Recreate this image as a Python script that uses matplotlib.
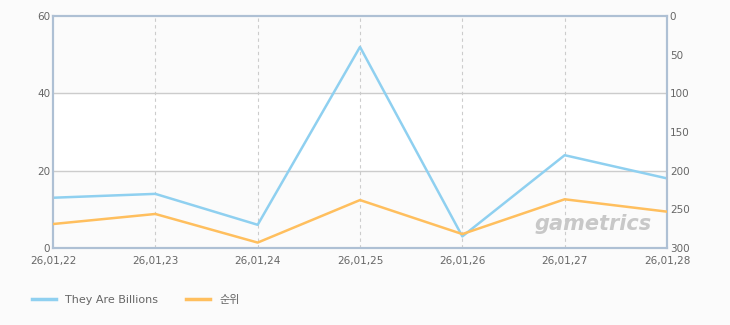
import matplotlib
matplotlib.use('Agg')
import matplotlib.pyplot as plt

plt.rcParams['font.family'] = ['DejaVu Sans', 'Noto Sans CJK KR']

dates = ['26,01,22', '26,01,23', '26,01,24', '26,01,25', '26,01,26', '26,01,27', '26,01,28']
players = [13, 14, 6, 52, 3, 24, 18]
rank = [269, 256, 293, 238, 282, 237, 253]

blue = '#8fd0f0'
orange = '#ffbf5e'
text_c = '#666666'
spine_c = '#aec0d4'

fig = plt.figure(figsize=(7.3, 3.25), dpi=100, facecolor='#fbfbfb')
ax = fig.add_axes([53 / 730, 1 - 248 / 325, 614 / 730, 232 / 325])
ax.set_facecolor('#ffffff')
x = list(range(len(dates)))

# alternating bands
ax.axhspan(0, 20, color='#fbfbfb', zorder=0)
ax.axhspan(40, 60, color='#fbfbfb', zorder=0)

ax.set_xlim(0, len(dates) - 1)
ax.set_ylim(0, 60)
ax.set_yticks([0, 20, 40, 60])
ax.set_xticks(x)
ax.set_xticklabels(dates)
for yv in [20, 40]:
    ax.axhline(yv, color='#cccccc', lw=1, zorder=1)
for xv in x[1:-1]:
    ax.axvline(xv, color='#cccccc', lw=0.8, ls=(0, (3, 3)), zorder=1)

ax.plot(x, players, color=blue, lw=1.8, zorder=3)

ax2 = ax.twinx()
ax2.set_ylim(300, 0)
ax2.set_yticks([0, 50, 100, 150, 200, 250, 300])
ax2.plot(x, rank, color=orange, lw=1.8, zorder=3)

for a in (ax, ax2):
    for s in a.spines.values():
        s.set_color(spine_c)
        s.set_linewidth(1.5)
    a.tick_params(length=0, labelsize=7.5, colors=text_c, pad=2)
ax.tick_params(axis='x', pad=6)

ax.text(0.88, 0.06, 'gametrics', transform=ax.transAxes, ha='center', va='bottom',
        fontsize=15, fontweight='bold', style='italic', color='#c8c8c8', zorder=2)

h1, = ax.plot([], [], color=blue, lw=2.5)
h2, = ax.plot([], [], color=orange, lw=2.5)
fig.legend([h1, h2], ['They Are Billions', '순위'], loc='center left',
           bbox_to_anchor=(0.03, 1 - 300 / 325), ncol=2, frameon=False,
           fontsize=8, labelcolor=text_c, handlelength=2.2, columnspacing=2.5)

fig.savefig('out.png', dpi=100, facecolor=fig.get_facecolor())
